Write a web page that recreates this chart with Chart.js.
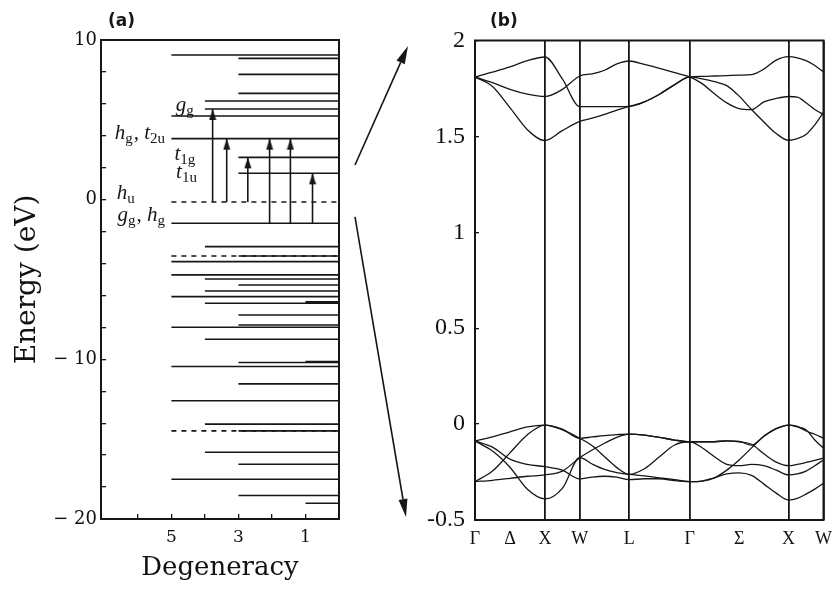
<!DOCTYPE html>
<html>
<head>
<meta charset="utf-8">
<script src="https://cdn.jsdelivr.net/npm/chart.js@4.4.1/dist/chart.umd.min.js"></script>
<style>
  body { margin: 0; background: #fff; }
  #wrap { position: relative; width: 840px; height: 589px; }
  canvas { position: absolute; top: 0; }
</style>
</head>
<body>
<div id="wrap">
  <canvas id="levels" width="420" height="589" style="left:0"></canvas>
  <canvas id="bands" width="420" height="589" style="left:420px"></canvas>
</div>
<script>
// ---------- panel (a): molecular levels ----------
const levelEnergy = [9.06, 8.85, 7.85, 6.66, 6.18, 5.68, 5.24, 3.82, 3.82, 2.65, 1.65, -0.15,
  -1.48, -1.48, -2.94, -3.53, -3.53, -3.88, -4.71, -4.97, -5.34, -5.72, -6.07, -6.39, -6.49,
  -7.22, -7.85, -7.99, -8.74, -10.14, -10.2, -10.45, -11.54, -12.59, -12.59, -14.06, -14.48,
  -14.48, -15.82, -16.57, -17.51, -18.53, -19.01];
const levelDegeneracy = [5, 3, 3, 3, 4, 4, 5, 5, 3, 3, 3, 5,
  5, 4, 4, 5, 3, 5, 5, 4, 3, 4, 5, 1, 4,
  3, 3, 5, 4, 1, 3, 5, 3, 5, 3, 4, 5,
  3, 4, 3, 5, 3, 1];
const levelDashed = [0, 0, 0, 0, 0, 0, 0, 0, 0, 0, 0, 1,
  0, 0, 0, 1, 0, 0, 0, 0, 0, 0, 0, 0, 0,
  0, 0, 0, 0, 0, 0, 0, 0, 0, 0, 0, 1,
  0, 0, 0, 0, 0, 0];

// transitions drawn as arrows
const arrowDeg = [3.77, 3.35, 2.72, 2.07, 1.45, 0.79];
const arrowFrom = [-0.15, -0.15, -0.15, -1.48, -1.48, -1.48];
const arrowTo = [5.68, 3.82, 2.65, 3.82, 3.82, 1.65];

const levelLabelText = ['g_g', 'h_g, t_2u', 't_1g', 't_1u', 'h_u', 'g_g, h_g'];
const levelLabelDeg = [4.24, 5.1, 4.2, 4.15, 6.0, 5.1];
const levelLabelEnergy = [5.87, 4.1, 2.8, 1.67, 0.33, -1.02];

const degTicks = [1, 2, 3, 4, 5, 6];
const degLabels = [1, 3, 5];

// ---------- panel (b): band structure ----------
const kTickPos = [0, 0.5, 1, 1.5, 2.207, 3.073, 3.78, 4.487, 4.987];
const kTickLabels = ['Γ', 'Δ', 'X', 'W', 'L', 'Γ', 'Σ', 'X', 'W'];
const noLineLabels = ['Δ', 'Σ'];

const kGrid = [0, 0.25, 0.5, 0.75, 1, 1.25, 1.5, 1.677, 1.854, 2.03, 2.207, 2.424, 2.64, 2.857,
  3.073, 3.25, 3.427, 3.603, 3.78, 3.957, 4.134, 4.31, 4.487, 4.612, 4.737, 4.862, 4.987];

const condA = [1.81, 1.835, 1.862, 1.895, 1.914, 1.80, 1.655, 1.655, 1.655, 1.655, 1.656, 1.68, 1.72, 1.77,
  1.81, 1.813, 1.815, 1.817, 1.819, 1.822, 1.851, 1.898, 1.916, 1.91, 1.895, 1.87, 1.835];
const condB = [1.81, 1.78, 1.745, 1.72, 1.708, 1.745, 1.815, 1.826, 1.845, 1.878, 1.893, 1.875, 1.855, 1.832,
  1.81, 1.775, 1.722, 1.675, 1.645, 1.64, 1.68, 1.698, 1.708, 1.705, 1.675, 1.64, 1.615];
const condC = [1.81, 1.76, 1.65, 1.535, 1.478, 1.53, 1.578, 1.595, 1.615, 1.637, 1.656, 1.68, 1.72, 1.77,
  1.81, 1.80, 1.785, 1.765, 1.71, 1.64, 1.575, 1.515, 1.48, 1.488, 1.51, 1.56, 1.625];

const val1 = [-0.088, -0.067, -0.04, -0.015, -0.005, -0.026, -0.074, -0.067, -0.06, -0.055, -0.052, -0.057, -0.069, -0.083,
  -0.092, -0.092, -0.092, -0.087, -0.092, -0.105, -0.155, -0.198, -0.217, -0.21, -0.2, -0.189, -0.178];
const val2 = [-0.30, -0.245, -0.15, -0.055, -0.005, -0.03, -0.074, -0.113, -0.17, -0.227, -0.262, -0.233, -0.17, -0.109,
  -0.092, -0.123, -0.17, -0.21, -0.217, -0.21, -0.217, -0.24, -0.265, -0.26, -0.245, -0.217, -0.187];
const val3 = [-0.088, -0.12, -0.183, -0.21, -0.222, -0.24, -0.286, -0.276, -0.272, -0.277, -0.29, -0.285, -0.285, -0.295,
  -0.30, -0.297, -0.28, -0.24, -0.187, -0.124, -0.063, -0.024, -0.005, -0.012, -0.036, -0.053, -0.074];
const val4 = [-0.088, -0.14, -0.225, -0.34, -0.39, -0.335, -0.175, -0.208, -0.236, -0.253, -0.262, -0.27, -0.28, -0.29,
  -0.30, -0.297, -0.28, -0.26, -0.254, -0.267, -0.313, -0.36, -0.396, -0.387, -0.365, -0.339, -0.309];
const val5 = [-0.30, -0.293, -0.283, -0.272, -0.265, -0.245, -0.175, -0.135, -0.10, -0.069, -0.052, -0.057, -0.069, -0.083,
  -0.092, -0.092, -0.092, -0.087, -0.09, -0.11, -0.063, -0.024, -0.005, -0.015, -0.03, -0.083, -0.126];

const bands = [condA, condB, condC, val1, val2, val3, val4, val5];

Chart.defaults.font.family = "'Liberation Serif', serif";
Chart.defaults.color = '#111';

const INK = '#161616';

// level line from x = degeneracy to x = 0, null y to break between levels
function levelPoints(dashed) {
  const pts = [];
  levelEnergy.forEach((e, i) => {
    if (levelDashed[i] !== dashed) return;
    pts.push({ x: levelDegeneracy[i], y: e }, { x: 0, y: e }, { x: 0, y: null });
  });
  return pts;
}

// arrow head image, tip sits on the centre so it touches the target level
const headImg = document.createElement('canvas');
headImg.width = 8;
headImg.height = 24;
(function () {
  const c = headImg.getContext('2d');
  c.fillStyle = INK;
  c.beginPath();
  c.moveTo(4, 12);
  c.lineTo(0.5, 23);
  c.lineTo(7.5, 23);
  c.closePath();
  c.fill();
})();

const framePlugin = {
  id: 'frame',
  afterDraw(chart) {
    const { ctx, chartArea: a } = chart;
    ctx.save();
    ctx.strokeStyle = INK;
    ctx.lineWidth = 2;
    ctx.strokeRect(a.left, a.top, a.right - a.left, a.bottom - a.top);
    ctx.restore();
  }
};

function drawSubLabel(ctx, text, xRight, yMid) {
  const pieces = text.split(/(_[0-9a-z]+)/).filter(Boolean)
    .map(p => p[0] === '_' ? { t: p.slice(1), sub: true } : { t: p, sub: false });
  const mainFont = "italic 21px 'Liberation Serif', serif";
  const subFont = "15px 'Liberation Serif', serif";
  let total = 0;
  pieces.forEach(p => {
    ctx.font = p.sub ? subFont : mainFont;
    p.w = ctx.measureText(p.t).width + (p.sub ? 1 : 0);
    total += p.w;
  });
  let x = xRight - total;
  ctx.textBaseline = 'alphabetic';
  ctx.textAlign = 'left';
  pieces.forEach(p => {
    ctx.font = p.sub ? subFont : mainFont;
    ctx.fillText(p.t, x, yMid + (p.sub ? 9 : 5));
    x += p.w;
  });
}

function drawArrow(ctx, x0, y0, x1, y1) {
  const ang = Math.atan2(y1 - y0, x1 - x0);
  const len = 18, half = 4.5;
  const bx = x1 - Math.cos(ang) * len, by = y1 - Math.sin(ang) * len;
  ctx.beginPath();
  ctx.moveTo(x0, y0);
  ctx.lineTo(bx, by);
  ctx.stroke();
  ctx.beginPath();
  ctx.moveTo(x1, y1);
  ctx.lineTo(bx + Math.sin(ang) * half, by - Math.cos(ang) * half);
  ctx.lineTo(bx - Math.sin(ang) * half, by + Math.cos(ang) * half);
  ctx.closePath();
  ctx.fill();
}

const levelNotes = {
  id: 'levelNotes',
  afterDraw(chart) {
    const { ctx, chartArea: a, scales: { x, y } } = chart;
    ctx.save();
    ctx.fillStyle = INK;
    levelLabelText.forEach((t, i) => {
      drawSubLabel(ctx, t, x.getPixelForValue(levelLabelDeg[i]) - 2, y.getPixelForValue(levelLabelEnergy[i]));
    });
    ctx.font = "bold 17px 'DejaVu Sans', sans-serif";
    ctx.textBaseline = 'middle';
    ctx.fillText('(a)', a.left + 7, 22);
    // arrows to the zoomed band panel
    ctx.strokeStyle = INK;
    ctx.lineWidth = 1.6;
    drawArrow(ctx, a.right + 16, y.getPixelForValue(2.17), 408, 46);
    drawArrow(ctx, a.right + 16, y.getPixelForValue(-1.08), 406, 517);
    ctx.restore();
  }
};

const arrowSets = arrowDeg.map((d, i) => ({
  data: [{ x: d, y: arrowFrom[i] }, { x: d, y: arrowTo[i] }],
  borderColor: INK,
  borderWidth: 1.6,
  pointRadius: [0, 5],
  pointStyle: headImg,
  pointHoverRadius: 0
}));

new Chart(document.getElementById('levels'), {
  type: 'line',
  data: {
    datasets: [
      { data: levelPoints(0), borderColor: INK, borderWidth: 1.6, pointRadius: 0 },
      { data: levelPoints(1), borderColor: INK, borderWidth: 1.6, pointRadius: 0, borderDash: [5, 5] },
      ...arrowSets
    ]
  },
  options: {
    responsive: false,
    animation: false,
    events: [],
    layout: { padding: { top: 40, right: 81, bottom: 0, left: 0 } },
    plugins: { legend: { display: false }, tooltip: { enabled: false } },
    scales: {
      x: {
        type: 'linear',
        reverse: true,
        min: 0,
        max: 7.1,
        afterBuildTicks: s => { s.ticks = degTicks.map(v => ({ value: v })); },
        afterFit: s => { s.height = 70; },
        border: { display: false },
        grid: { drawOnChartArea: false, drawTicks: true, tickLength: -5, color: INK, lineWidth: 1.3 },
        ticks: {
          autoSkip: false, maxRotation: 0,
          padding: 13,
          font: { family: "'DejaVu Serif', serif", size: 17 },
          callback: v => degLabels.includes(v) ? String(v) : ''
        },
        title: {
          display: true, text: 'Degeneracy',
          font: { family: "'DejaVu Serif', serif", size: 26 },
          padding: { top: 0, bottom: 5 }
        }
      },
      y: {
        type: 'linear',
        min: -20,
        max: 10,
        afterFit: s => { s.width = 101; },
        border: { display: false },
        grid: { drawOnChartArea: false, drawTicks: true, tickLength: -5, color: INK, lineWidth: 1.3 },
        ticks: {
          stepSize: 2,
          padding: 9,
          font: { family: "'DejaVu Serif', serif", size: 18 },
          callback: v => v % 10 === 0 ? (v < 0 ? '\u2212 ' + (-v) : String(v)) : ''
        },
        title: {
          display: true, text: 'Energy (eV)',
          font: { family: "'DejaVu Serif', serif", size: 28 },
          padding: { top: 11, bottom: 0 }
        }
      }
    }
  },
  plugins: [framePlugin, levelNotes]
});

const bandNotes = {
  id: 'bandNotes',
  afterDraw(chart) {
    const { ctx, chartArea: a } = chart;
    ctx.save();
    ctx.fillStyle = INK;
    ctx.font = "bold 17px 'DejaVu Sans', sans-serif";
    ctx.textBaseline = 'middle';
    ctx.fillText('(b)', a.left + 15, 22);
    ctx.restore();
  }
};

new Chart(document.getElementById('bands'), {
  type: 'line',
  data: {
    datasets: bands.map(b => ({
      data: kGrid.map((k, i) => ({ x: k, y: b[i] })),
      borderColor: INK,
      borderWidth: 1.3,
      pointRadius: 0,
      cubicInterpolationMode: 'monotone'
    }))
  },
  options: {
    responsive: false,
    animation: false,
    events: [],
    layout: { padding: { top: 40.5, right: 10.4, bottom: 0, left: 0 } },
    plugins: { legend: { display: false }, tooltip: { enabled: false } },
    scales: {
      x: {
        type: 'linear',
        min: 0,
        max: 4.987,
        afterBuildTicks: s => { s.ticks = kTickPos.map(v => ({ value: v })); },
        afterFit: s => { s.height = 69; },
        border: { display: false },
        grid: {
          drawTicks: false,
          lineWidth: 1.8,
          color: c => noLineLabels.includes(kTickLabels[c.index]) ? 'rgba(0,0,0,0)' : INK
        },
        ticks: {
          autoSkip: false, maxRotation: 0,
          padding: 8,
          font: { size: 18 },
          callback: (v, i) => kTickLabels[i]
        }
      },
      y: {
        type: 'linear',
        min: -0.5,
        max: 2,
        afterFit: s => { s.width = 55; },
        border: { display: false },
        grid: { drawOnChartArea: false, drawTicks: true, tickLength: -4, color: INK, lineWidth: 1.3 },
        ticks: {
          stepSize: 0.5,
          padding: 14,
          font: { size: 24 },
          callback: v => String(v)
        }
      }
    }
  },
  plugins: [framePlugin, bandNotes]
});
</script>
</body>
</html>
